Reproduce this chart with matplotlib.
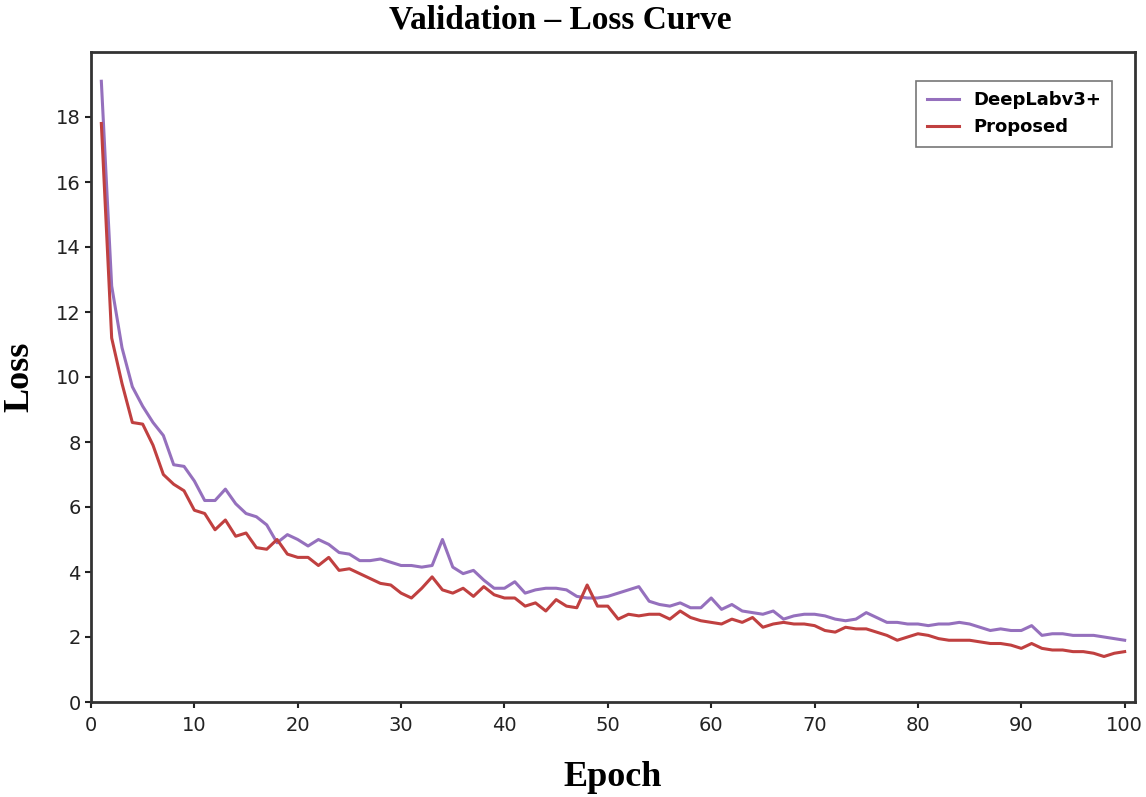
import matplotlib.pyplot as plt
import numpy as np

# valeurs (epoch 1..100)
epochs = np.arange(1, 101)

deeplab = [19.1, 12.8, 10.9, 9.7, 9.1, 8.6, 8.2, 7.3, 7.25, 6.8,
           6.2, 6.2, 6.55, 6.1, 5.8, 5.7, 5.45, 4.9, 5.15, 5.0,
           4.8, 5.0, 4.85, 4.6, 4.55, 4.35, 4.35, 4.4, 4.3, 4.2,
           4.2, 4.15, 4.2, 5.0, 4.15, 3.95, 4.05, 3.75, 3.5, 3.5,
           3.7, 3.35, 3.45, 3.5, 3.5, 3.45, 3.25, 3.2, 3.2, 3.25,
           3.35, 3.45, 3.55, 3.1, 3.0, 2.95, 3.05, 2.9, 2.9, 3.2,
           2.85, 3.0, 2.8, 2.75, 2.7, 2.8, 2.55, 2.65, 2.7, 2.7,
           2.65, 2.55, 2.5, 2.55, 2.75, 2.6, 2.45, 2.45, 2.4, 2.4,
           2.35, 2.4, 2.4, 2.45, 2.4, 2.3, 2.2, 2.25, 2.2, 2.2,
           2.35, 2.05, 2.1, 2.1, 2.05, 2.05, 2.05, 2.0, 1.95, 1.9]

proposed = [17.8, 11.2, 9.8, 8.6, 8.55, 7.9, 7.0, 6.7, 6.5, 5.9,
            5.8, 5.3, 5.6, 5.1, 5.2, 4.75, 4.7, 5.0, 4.55, 4.45,
            4.45, 4.2, 4.45, 4.05, 4.1, 3.95, 3.8, 3.65, 3.6, 3.35,
            3.2, 3.5, 3.85, 3.45, 3.35, 3.5, 3.25, 3.55, 3.3, 3.2,
            3.2, 2.95, 3.05, 2.8, 3.15, 2.95, 2.9, 3.6, 2.95, 2.95,
            2.55, 2.7, 2.65, 2.7, 2.7, 2.55, 2.8, 2.6, 2.5, 2.45,
            2.4, 2.55, 2.45, 2.6, 2.3, 2.4, 2.45, 2.4, 2.4, 2.35,
            2.2, 2.15, 2.3, 2.25, 2.25, 2.15, 2.05, 1.9, 2.0, 2.1,
            2.05, 1.95, 1.9, 1.9, 1.9, 1.85, 1.8, 1.8, 1.75, 1.65,
            1.8, 1.65, 1.6, 1.6, 1.55, 1.55, 1.5, 1.4, 1.5, 1.55]

fig = plt.figure(figsize=(11.46, 7.97), dpi=100)
ax = fig.add_axes([91/1146, 1-702/797, (1135-91)/1146, (702-52)/797])

ax.plot(epochs, deeplab, color='#9570bd', lw=2.2, label='DeepLabv3+')
ax.plot(epochs, proposed, color='#c04040', lw=2.2, label='Proposed')

ax.set_xlim(0, 101)
ax.set_ylim(0, 20)
ax.set_xticks(np.arange(0, 101, 10))
ax.set_yticks(np.arange(0, 19, 2))
ax.tick_params(labelsize=14, length=4, width=1.5, colors='#222222')
ax.tick_params(axis='x', pad=6)

for s in ax.spines.values():
    s.set_linewidth(2)
    s.set_color('#333333')

ax.set_title('Validation – Loss Curve', family='Liberation Serif',
             fontweight='bold', fontsize=24, pad=17, x=0.45)
ax.set_xlabel('Epoch', family='Liberation Serif', fontweight='bold',
              fontsize=26, labelpad=19)
ax.set_ylabel('Loss', family='Liberation Serif', fontweight='bold',
              fontsize=26, labelpad=14)

leg = ax.legend(loc='upper right', bbox_to_anchor=(0.987, 0.97),
                prop={'weight': 'bold', 'size': 13}, fancybox=False,
                handlelength=1.8, borderpad=0.6)
leg.get_frame().set_edgecolor('#555555')
leg.get_frame().set_linewidth(1.2)

plt.savefig('out.png', dpi=100)
